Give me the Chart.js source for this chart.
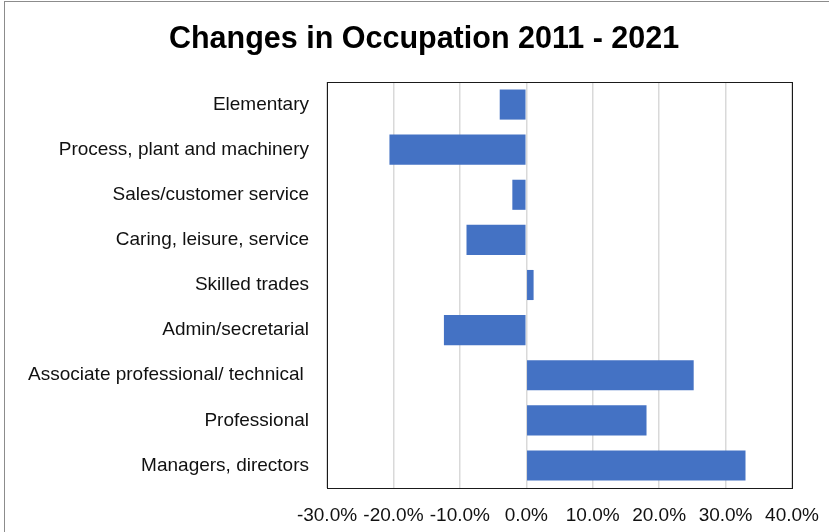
<!DOCTYPE html>
<html lang="en">
<head>
  <meta charset="UTF-8">
  <title>Changes in Occupation 2011 - 2021</title>
  <script src="https://cdn.jsdelivr.net/npm/chart.js"></script>
  <style>
    html, body { margin: 0; padding: 0; background: #fff; overflow: hidden; }
    .frame {
      position: absolute; left: 4px; top: 1px;
      width: 838px; height: 560px;
      border: 1px solid #8c8c8c;
    }
  </style>
</head>
<body>
  <div class="frame">
    <canvas id="grafico" width="838" height="560"></canvas>
  </div>

  <script>
    // categorias e variação percentual
    const ocupacoes = [
      'Elementary',
      'Process, plant and machinery',
      'Sales/customer service',
      'Caring, leisure, service',
      'Skilled trades',
      'Admin/secretarial',
      'Associate professional/ technical ',
      'Professional',
      'Managers, directors'
    ];
    const variacao = [-4.0, -20.6, -2.1, -9.0, 1.1, -12.4, 25.2, 18.1, 33.0];
    const eixoMin = -30, eixoMax = 40, passo = 10;
    const titulo = 'Changes in Occupation 2011 - 2021';

    const fonte = '"Liberation Sans", Arial, sans-serif';

    // título centralizado na largura toda do quadro
    const tituloCentral = {
      id: 'tituloCentral',
      afterDraw(chart) {
        const ctx = chart.ctx;
        ctx.save();
        ctx.fillStyle = '#000';
        ctx.font = 'bold 30.5px ' + fonte;
        ctx.textAlign = 'center';
        ctx.textBaseline = 'middle';
        ctx.fillText(titulo, chart.width / 2, 38);
        ctx.restore();
      }
    };

    // contorno preto da área do gráfico
    const bordaArea = {
      id: 'bordaArea',
      afterDraw(chart) {
        const a = chart.chartArea, ctx = chart.ctx;
        ctx.save();
        ctx.strokeStyle = '#1a1a1a';
        ctx.lineWidth = 1;
        ctx.strokeRect(Math.round(a.left) + 0.5, Math.round(a.top) + 0.5,
          Math.round(a.right - a.left), Math.round(a.bottom - a.top));
        ctx.restore();
      }
    };

    const ctx = document.getElementById('grafico').getContext('2d');
    const chart = new Chart(ctx, {
      type: 'bar',
      data: {
        labels: ocupacoes,
        datasets: [{
          data: variacao,
          backgroundColor: '#4472c4',
          borderWidth: 0,
          categoryPercentage: 1,
          barPercentage: 0.667
        }]
      },
      options: {
        indexAxis: 'y',
        responsive: false,
        animation: false,
        layout: { padding: { left: 0, right: 51, top: 80, bottom: 0 } },
        plugins: {
          legend: { display: false },
          tooltip: { enabled: false },
          title: { display: false }
        },
        scales: {
          x: {
            min: eixoMin,
            max: eixoMax,
            ticks: {
              stepSize: passo,
              color: '#111',
              padding: 16,
              maxRotation: 0,
              font: { family: fonte, size: 19 },
              callback: v => v.toFixed(1) + '%'
            },
            grid: { color: '#d9d9d9', lineWidth: 1.5, drawTicks: false },
            border: { display: false },
            afterFit(s) { s.height = 560 - 486; }
          },
          y: {
            ticks: {
              color: '#111',
              padding: 18,
              autoSkip: false,
              font: { family: fonte, size: 19 }
            },
            grid: { display: false, drawTicks: false },
            border: { display: false },
            afterFit(s) { s.width = 322; }
          }
        }
      },
      plugins: [bordaArea, tituloCentral]
    });
  </script>
</body>
</html>
